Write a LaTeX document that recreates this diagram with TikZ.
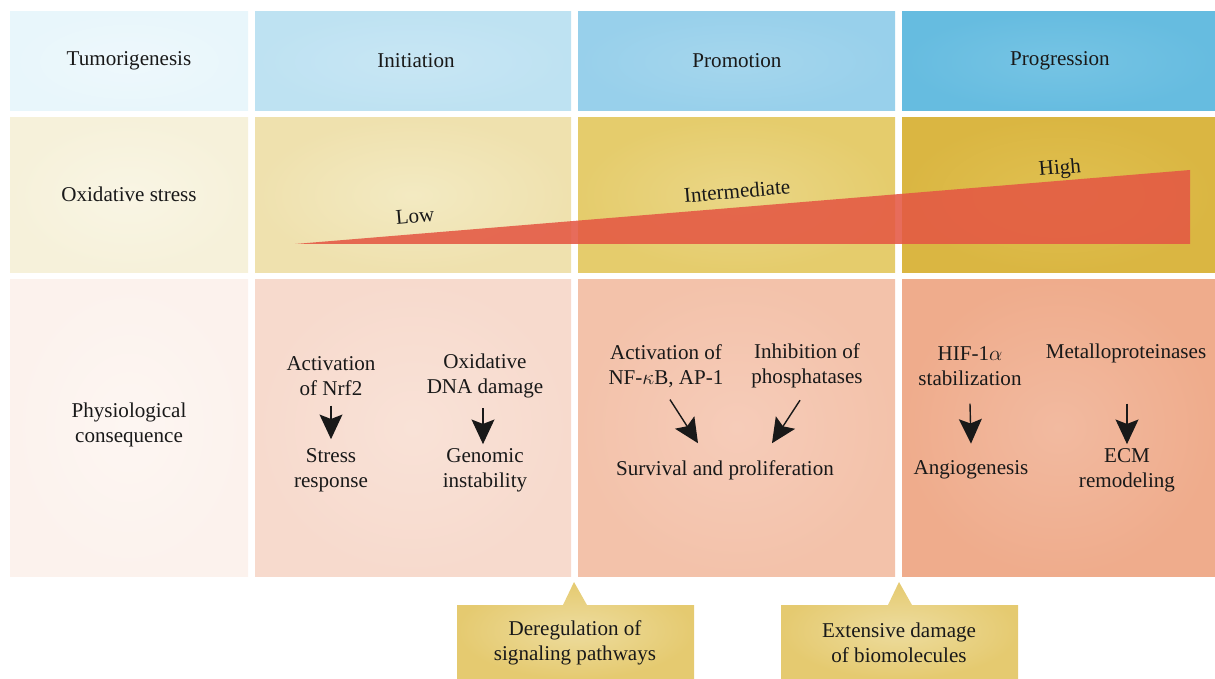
\documentclass[tikz,border=0pt]{standalone}
\usepackage{amsmath}
\usepackage{fontspec}
\setmainfont{Liberation Serif}
\usepackage{tikz}
\usetikzlibrary{arrows.meta}
\definecolor{wedgered}{RGB}{228,88,68}
\definecolor{aIn}{RGB}{238,248,252}\definecolor{aOut}{RGB}{232,246,251}
\definecolor{bIn}{RGB}{200,230,244}\definecolor{bOut}{RGB}{190,226,242}
\definecolor{cIn}{RGB}{165,214,237}\definecolor{cOut}{RGB}{152,208,235}
\definecolor{dIn}{RGB}{118,196,228}\definecolor{dOut}{RGB}{102,188,224}
\definecolor{eIn}{RGB}{249,245,228}\definecolor{eOut}{RGB}{246,241,218}
\definecolor{fIn}{RGB}{243,234,194}\definecolor{fOut}{RGB}{239,225,174}
\definecolor{gIn}{RGB}{234,214,134}\definecolor{gOut}{RGB}{229,204,108}
\definecolor{hIn}{RGB}{224,192,80}\definecolor{hOut}{RGB}{218,182,66}
\definecolor{iIn}{RGB}{253,246,242}\definecolor{iOut}{RGB}{252,242,237}
\definecolor{jIn}{RGB}{249,226,215}\definecolor{jOut}{RGB}{247,218,205}
\definecolor{kIn}{RGB}{246,204,185}\definecolor{kOut}{RGB}{243,194,170}
\definecolor{lIn}{RGB}{242,186,160}\definecolor{lOut}{RGB}{239,172,140}
\definecolor{boxIn}{RGB}{237,220,158}\definecolor{boxOut}{RGB}{229,202,112}
\tikzset{
    every node/.style={inner sep=1pt, align=center, font=\fontsize{12}{14.2}\selectfont, text=black!90}
}
\tikzset{
    cell/.style={shading=radial, inner color=#1In, outer color=#1Out},
    arr/.style={line width=0.8pt, -{Stealth[length=14pt,width=13pt,inset=2.5pt]}, black!90}
}

\begin{document}
\begin{tikzpicture}[x=0.02cm, y=-0.02cm]
  \useasboundingbox (0,0) rectangle (1215,679);
  % row 1
  \shade[cell=a] (10,12) rectangle (248,111);
  \shade[cell=b] (255,12) rectangle (571,111);
  \shade[cell=c] (578,12) rectangle (895,111);
  \shade[cell=d] (902,12) rectangle (1215,111);
  % row 2
  \shade[cell=e] (10,118) rectangle (248,272);
  \shade[cell=f] (255,118) rectangle (571,272);
  \shade[cell=g] (578,118) rectangle (895,272);
  \shade[cell=h] (902,118) rectangle (1215,272);
  % row 3
  \shade[cell=i] (10,279) rectangle (248,576);
  \shade[cell=j] (255,279) rectangle (571,576);
  \shade[cell=k] (578,279) rectangle (895,576);
  \shade[cell=l] (902,279) rectangle (1215,576);

  \fill[wedgered, opacity=.88] (295,244) -- (1190,170) -- (1190,244) -- cycle;

  % callouts
  \shade[cell=box]
    (457,605) -- (563,605) -- (574,582) -- (587,605) -- (694,605) -- (694,679) -- (457,679) -- cycle;
  \shade[cell=box]
    (781,605) -- (888,605) -- (899,582) -- (912,605) -- (1018,605) -- (1018,679) -- (781,679) -- cycle;

  \node (tumor) at (129,61) {Tumorigenesis};
  \node (init) at (416,61) {Initiation};
  \node (promo) at (737,61) {Promotion};
  \node (progr) at (1060,61) {Progression};

  \node (oxstress) at (129,194) {Oxidative stress};
  \node (low) [rotate=5] at (415,216) {Low};
  \node (inter) [rotate=5] at (737,191) {Intermediate};
  \node (high) [rotate=5] at (1060,169) {High};

  \node (physio) at (129,425) {Physiological\\consequence};

  \node (nrf) at (331,376) {Activation\\of Nrf2};
  \node (dna) at (485,376) {Oxidative\\DNA damage};
  \node (stress) at (331,470) {Stress\\response};
  \node (genom) at (485,470) {Genomic\\instability};

  \node (nfkb) at (666,366) {Activation of\\NF-$\kappa$B, AP-1};
  \node (phos) at (807,366) {Inhibition of\\phosphatases};
  \node (surv) at (725,470) {Survival and proliferation};

  \node (hif) at (970,366) {HIF-1$\alpha$\\stabilization};
  \node (mmp) at (1126,353) {Metalloproteinases};
  \node (angio) at (971,470) {Angiogenesis};
  \node (ecm) at (1127,470) {ECM\\remodeling};

  \node (dereg) at (575,643) {Deregulation of\\signaling pathways};
  \node (damage) at (899,643) {Extensive damage\\of biomolecules};

  \draw[arr] ([yshift=-0.16cm]nrf.south) -- ([yshift=0.14cm]stress.north);
  \draw[arr] ([xshift=-0.04cm,yshift=-0.16cm]dna.south) -- ([xshift=-0.04cm,yshift=0.04cm]genom.north);
  \draw[arr] ([xshift=0.08cm,yshift=-0.2cm]nfkb.south) -- ([xshift=-0.54cm,yshift=0.3cm]surv.north);
  \draw[arr] ([xshift=-0.14cm,yshift=-0.2cm]phos.south) -- ([xshift=0.94cm,yshift=0.3cm]surv.north);
  \draw[arr] ([yshift=-0.32cm]hif.south) -- ([yshift=0.3cm]angio.north);
  \draw[arr] ([yshift=-0.32cm]ecm.north |- hif.south) -- ([yshift=0.04cm]ecm.north);
\end{tikzpicture}
\end{document}
